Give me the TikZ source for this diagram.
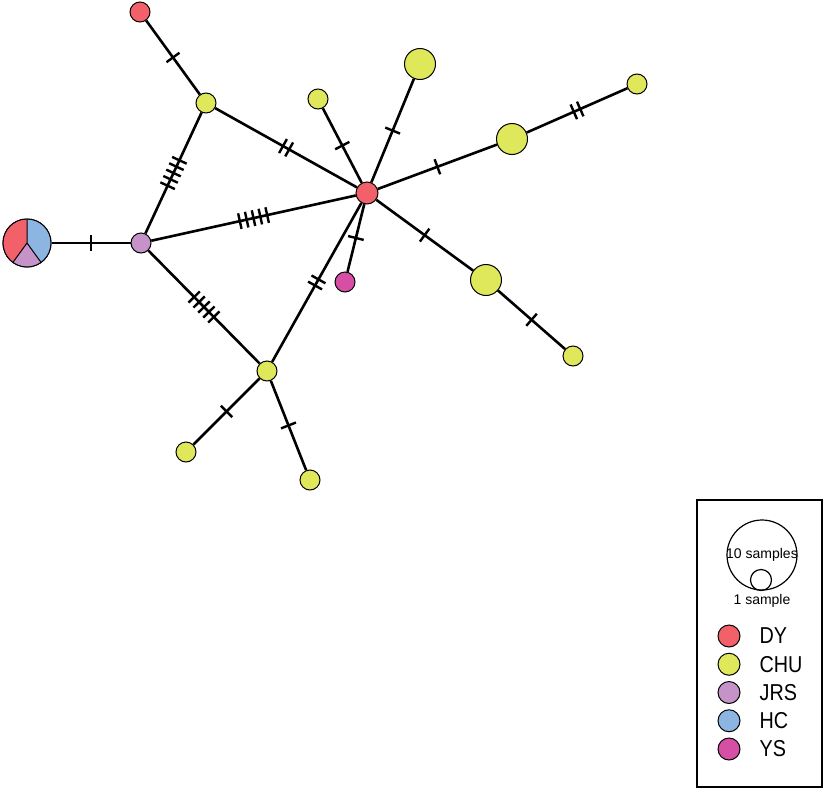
\documentclass[tikz,border=0pt]{standalone}
\usepackage{fontspec}
\setmainfont{Liberation Sans}
\usetikzlibrary{decorations.markings,positioning}
\definecolor{dy}{HTML}{F2616A}
\definecolor{chu}{HTML}{DFE75B}
\definecolor{jrs}{HTML}{C593C7}
\definecolor{hc}{HTML}{8DB5E2}
\definecolor{ys}{HTML}{D74FA5}
\tikzset{
  hap/.style={circle,draw,line width=1pt,inner sep=0pt,minimum size=#1},
  hap/.default=20,
  link/.style={line width=2.6pt},
  mut/.style={link,postaction={decorate,decoration={markings,
    mark=at position 0.5 with {\foreach \k in {1,...,#1}{\draw[line width=2.4pt] ({(\k-(#1+1)/2)*7},-8) -- ++(0,16);}}}}},
  lab/.style={font=\fontsize{23}{25}\selectfont,xscale=0.86,inner sep=0pt},
}
\begin{document}
\begin{tikzpicture}[x=1pt,y=-1pt]
\useasboundingbox (0,0) rectangle (827,790);
\node[hap,fill=dy] (d1) at (140,12) {};
\node[hap,fill=chu] (c1) at (206,103) {};
\node[hap=22,fill=dy] (hub) at (367,193) {};
\node[hap,fill=chu] (c2) at (318,99) {};
\node[hap=31,fill=chu] (c3) at (420,64) {};
\node[hap,fill=chu] (c4) at (637,84) {};
\node[hap=31,fill=chu] (c5) at (512,139) {};
\node[hap=31,fill=chu] (c6) at (486,280) {};
\node[hap,fill=chu] (c7) at (573,356) {};
\node[hap,fill=ys] (y1) at (345,282) {};
\node[hap,fill=jrs] (j1) at (141,243) {};
\node[hap,fill=chu] (c8) at (267,371) {};
\node[hap,fill=chu] (c9) at (186,452) {};
\node[hap,fill=chu] (c10) at (310,480) {};
\node[hap=48] (pie) at (27,243) {};
\fill[dy] (pie.center) -- ++(-90:24) arc[start angle=-90,end angle=-234,radius=24] -- cycle;
\fill[jrs] (pie.center) -- ++(-234:24) arc[start angle=-234,end angle=-306,radius=24] -- cycle;
\fill[hc] (pie.center) -- ++(-306:24) arc[start angle=-306,end angle=-450,radius=24] -- cycle;
\draw[line width=1pt] (pie.center) -- ++(-90:24) (pie.center) -- ++(-234:24) (pie.center) -- ++(-306:24);
\draw[line width=1pt] (pie) circle[radius=24];

\draw[mut=1] (d1) -- (c1);
\draw[mut=5] (c1) -- (j1);
\draw[mut=2] (c1) -- (hub);
\draw[mut=5] (j1) -- (hub);
\draw[mut=5] (j1) -- (c8);
\draw[mut=2] (c8) -- (hub);
\draw[mut=1] (pie) -- (j1);
\draw[mut=1] (hub) -- (c2);
\draw[mut=1] (hub) -- (c3);
\draw[mut=1] (hub) -- (c5);
\draw[mut=2] (c5) -- (c4);
\draw[mut=1] (hub) -- (c6);
\draw[mut=1] (c6) -- (c7);
\draw[mut=1] (hub) -- (y1);
\draw[mut=1] (c8) -- (c9);
\draw[mut=1] (c8) -- (c10);

\draw[line width=1.2pt] (697,500) rectangle (822,787);
\node[hap=70,line width=1.2pt] (big) at (762,555) {};
\node[hap=21,line width=1.2pt] (small) at (761,580) {};
\node[font=\fontsize{14}{16}\selectfont,inner sep=0pt] (t10) at (big) {10 samples};
\node[font=\fontsize{14}{16}\selectfont,inner sep=0pt] (t1) at (762,601) {1 sample};
\foreach \c/\t [count=\i] in {dy/DY,chu/CHU,jrs/JRS,hc/HC,ys/YS} {
  \node[hap=22,fill=\c] (k\i) at (729,{607.75+28.25*\i}) {};
  \node[lab,right=19pt of k\i] (l\i) {\t};
}
\end{tikzpicture}
\end{document}
